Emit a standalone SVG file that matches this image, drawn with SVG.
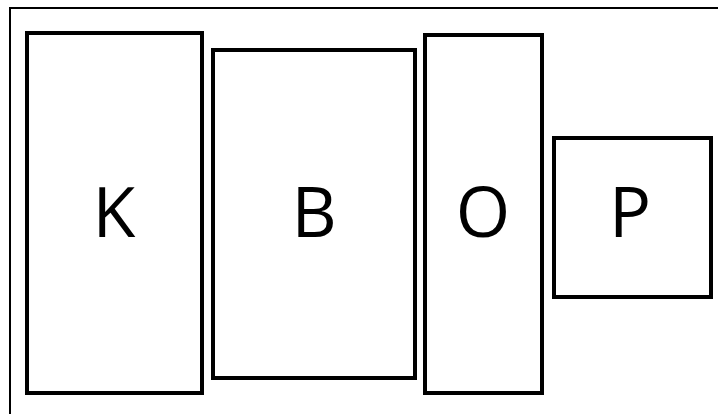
<svg xmlns="http://www.w3.org/2000/svg" width="718" height="414" viewBox="0 0 718 414">
<style>
.box{fill:#fff;stroke:#000;stroke-width:4}
.lbl{font-family:"Open Sans","Liberation Sans",sans-serif;font-size:70px;text-anchor:middle;fill:#000}
</style>
<rect width="718" height="414" fill="#fff"/>
<path d="M10 420 V8 H730" fill="none" stroke="#000" stroke-width="2"/>
<g id="K"><rect class="box" x="27" y="33" width="175" height="360"/><text class="lbl" x="114" y="237">K</text></g>
<g id="B"><rect class="box" x="213" y="50" width="202" height="328"/><text class="lbl" x="314" y="237">B</text></g>
<g id="O"><rect class="box" x="425" y="35" width="117" height="358"/><text class="lbl" x="483" y="237">O</text></g>
<g id="P"><rect class="box" x="554" y="138" width="157" height="159"/><text class="lbl" x="630" y="237">P</text></g>
<g id="connectors"></g>
</svg>
